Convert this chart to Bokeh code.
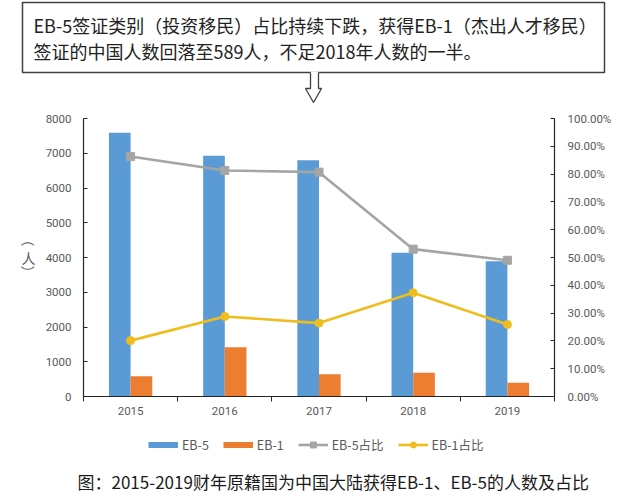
import numpy as np
from bokeh.plotting import figure
from bokeh.models import (Range1d, LinearAxis, FixedTicker, NumeralTickFormatter,
                          Legend, LegendItem, ColumnDataSource)
from bokeh.transform import dodge
from bokeh.layouts import column, row
from bokeh.embed import file_html
from bokeh.resources import INLINE
from bokeh.core.properties import value

# ---------------- data ----------------
years = ["2015", "2016", "2017", "2018", "2019"]
eb5 = [7590, 6930, 6800, 4140, 3890]
eb1 = [580, 1420, 640, 680, 395]
eb5_share = [0.863, 0.813, 0.807, 0.530, 0.490]
eb1_share = [0.201, 0.288, 0.264, 0.373, 0.259]
left_ticks = [0, 1000, 2000, 3000, 4000, 5000, 6000, 7000, 8000]
right_ticks = [0.0, 0.1, 0.2, 0.3, 0.4, 0.5, 0.6, 0.7, 0.8, 0.9, 1.0]
legend_labels = ["EB-5", "EB-1", "EB-5占比", "EB-1占比"]
title_lines = ["EB-5签证类别（投资移民）占比持续下跌，获得EB-1（杰出人才移民）",
               "签证的中国人数回落至589人，不足2018年人数的一半。"]
caption = "图：2015-2019财年原籍国为中国大陆获得EB-1、EB-5的人数及占比"
y_label_chars = ["（", "人", "）"]   # stacked vertically, brackets turned

# ---------------- styles ----------------
C5 = "#5B9BD5"
C1 = "#ED7D31"
CG = "#A5A5A5"
CY = "#F0BD1F"
TICK_C = "#595959"
AX_C = "#262626"
CJK = "Noto Sans CJK SC"
NUM = "Roboto"
PAGE_W = 640


def blank(width, height, x0, x1, y_top, y_bot):
    f = figure(width=width, height=height, x_range=Range1d(x0, x1),
               y_range=Range1d(y_bot, y_top), output_backend="svg",
               toolbar_location=None, min_border=0,
               x_axis_location=None, y_axis_location=None)
    f.frame_align = False
    f.grid.visible = False
    f.outline_line_color = None
    return f


# ---------------- top callout (page pixel coordinates) ----------------
top = blank(PAGE_W, 110, 0, PAGE_W, 0, 110)
top.quad(left=[22], right=[604], top=[2], bottom=[72], fill_color="white",
         line_color="#404040", line_width=1.5)
top.text(x=[33, 33], y=[24, 50], text=title_lines, text_font=value(CJK),
         text_font_size="18px", text_color="#222222", text_baseline="middle",
         text_align="left")
arrow_x = [310, 310, 305, 313, 321, 318, 318]
arrow_y = [71, 88, 88, 102, 88, 88, 71]
top.patch(arrow_x, arrow_y, fill_color="white", line_color=None)
top.line(arrow_x, [72] + arrow_y[1:-1] + [72], line_color="#404040", line_width=1.3)

# ---------------- y-axis title column ----------------
LBL_W = 40
MID_H = 316
lab = blank(LBL_W, MID_H, 0, LBL_W, 110, 110 + MID_H)
lab.text(x=[28, 28, 28], y=[239, 257, 272], text=y_label_chars, text_font=value(CJK),
         text_font_size="14px", text_color=TICK_C, text_baseline="middle",
         text_align="center", angle=[-np.pi / 2, 0, -np.pi / 2])

# ---------------- main chart ----------------
xpos = [i + 0.5 for i in range(len(years))]
bw = 0.23
src = ColumnDataSource(dict(x=xpos, eb5=eb5, eb1=eb1, s5=eb5_share, s1=eb1_share))

p = figure(width=PAGE_W - LBL_W, height=MID_H, x_range=Range1d(0, len(years)),
           y_range=Range1d(0, 8000), output_backend="svg", toolbar_location=None,
           min_border_left=43, min_border_right=86, min_border_top=8, min_border_bottom=30)
p.frame_align = False
p.extra_y_ranges = {"pct": Range1d(0, 1)}
p.grid.visible = False
p.outline_line_color = None

p.vbar(x=dodge("x", -bw / 2), top="eb5", width=bw, source=src,
       fill_color=C5, line_color=None)
p.vbar(x=dodge("x", bw / 2), top="eb1", width=bw, source=src,
       fill_color=C1, line_color=None)
p.line(x="x", y="s5", source=src, y_range_name="pct", line_color=CG, line_width=2.6)
p.scatter(x="x", y="s5", source=src, y_range_name="pct", marker="square", size=8,
          fill_color=CG, line_color=CG)
p.line(x="x", y="s1", source=src, y_range_name="pct", line_color=CY, line_width=2.6)
p.scatter(x="x", y="s1", source=src, y_range_name="pct", marker="circle", size=8,
          fill_color=CY, line_color=CY)

# x axis
xa = p.xaxis[0]
xa.ticker = FixedTicker(ticks=xpos, minor_ticks=list(range(len(years) + 1)))
xa.major_label_overrides = {float(x): y for x, y in zip(xpos, years)}
xa.major_tick_line_color = None
xa.major_tick_out = 5
xa.major_tick_in = 0
xa.minor_tick_out = 5
xa.minor_tick_in = 0
xa.minor_tick_line_color = AX_C
xa.axis_line_color = AX_C
xa.axis_line_width = 1.2
xa.major_label_standoff = 5
xa.major_label_text_font = NUM
xa.major_label_text_font_size = "11.5px"
xa.major_label_text_color = TICK_C

# left axis
ya = p.yaxis[0]
ya.ticker = FixedTicker(ticks=left_ticks)
ya.major_tick_in = 4
ya.major_tick_out = 0
ya.minor_tick_line_color = None
ya.major_tick_line_color = AX_C
ya.axis_line_color = AX_C
ya.axis_line_width = 1.2
ya.major_label_standoff = 12
ya.major_label_text_font = NUM
ya.major_label_text_font_size = "11.5px"
ya.major_label_text_color = TICK_C

# right axis
ra = LinearAxis(y_range_name="pct", ticker=FixedTicker(ticks=right_ticks),
                formatter=NumeralTickFormatter(format="0.00%"))
ra.major_tick_in = 4
ra.major_tick_out = 0
ra.minor_tick_line_color = None
ra.major_tick_line_color = AX_C
ra.axis_line_color = AX_C
ra.axis_line_width = 1.2
ra.major_label_standoff = 13
ra.major_label_text_font = NUM
ra.major_label_text_font_size = "11.5px"
ra.major_label_text_color = TICK_C
p.add_layout(ra, "right")

# ---------------- legend + caption ----------------
BOT_H = 501 - 110 - MID_H
bot = blank(PAGE_W, BOT_H, 0, PAGE_W, 110 + MID_H, 501)
# legend proxies (a single NaN point, so nothing is drawn in the panel itself)
nan = np.array([np.nan])
g5 = bot.line(x=nan, y=nan, line_color=C5, line_width=6, line_cap="butt")
g1 = bot.line(x=nan, y=nan, line_color=C1, line_width=6, line_cap="butt")
gl5 = bot.line(x=nan, y=nan, line_color=CG, line_width=2.6)
gm5 = bot.scatter(x=nan, y=nan, marker="square", fill_color=CG, line_color=CG)
gl1 = bot.line(x=nan, y=nan, line_color=CY, line_width=2.6)
gm1 = bot.scatter(x=nan, y=nan, marker="circle", fill_color=CY, line_color=CY)

legend = Legend(items=[
    LegendItem(label=legend_labels[0], renderers=[g5]),
    LegendItem(label=legend_labels[1], renderers=[g1]),
    LegendItem(label=legend_labels[2], renderers=[gl5, gm5]),
    LegendItem(label=legend_labels[3], renderers=[gl1, gm1]),
], orientation="horizontal", location=(148, 47))
legend.glyph_width = 30
legend.glyph_height = 15
legend.label_height = 15
legend.label_standoff = 4
legend.spacing = 14
legend.padding = 2
legend.margin = 0
legend.border_line_color = None
legend.background_fill_alpha = 0
legend.label_text_font = CJK
legend.label_text_font_size = "12.5px"
legend.label_text_color = TICK_C
bot.add_layout(legend)

bot.text(x=[77], y=[481], text=[caption], text_font=value(CJK), text_font_size="17px",
         text_color="#1A1A1A", text_baseline="middle", text_align="left")

layout = column(top, row(lab, p, spacing=0), bot, spacing=0)
open("out.html", "w").write(file_html(layout, INLINE))
